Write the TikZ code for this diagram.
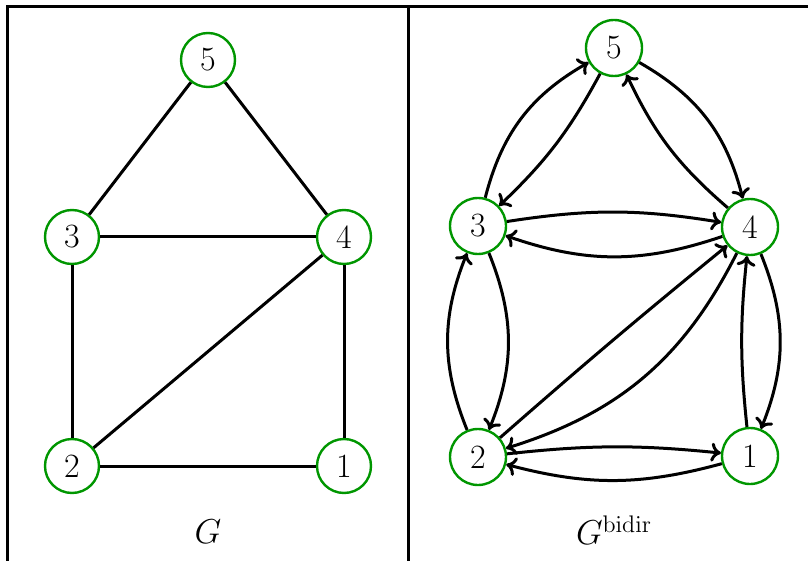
\documentclass[tikz,border=0pt]{standalone}
\usetikzlibrary{arrows.meta}
\definecolor{nodegreen}{RGB}{0,150,0}
\begin{document}
\begin{tikzpicture}[x=0.5pt,y=-0.5pt,
  vtx/.style={circle,draw=nodegreen,line width=1.2pt,minimum size=27pt,inner sep=0pt,font=\fontsize{17}{20}\selectfont},
  vtxr/.style={vtx,minimum size=28pt},
  edge/.style={line width=1.5pt},
  arc/.style={line width=1.5pt,-{To[length=5pt,width=9.5pt]}},
  frame/.style={line width=1.5pt}]
\useasboundingbox (0,0) rectangle (808,561);
% frame
\draw[frame] (7.5,561) -- (7.5,6.5) -- (808,6.5);
\draw[frame] (408.5,6.5) -- (408.5,561);
% left graph
\node[vtx] (l5) at (208,60) {5};
\node[vtx] (l3) at (72,237) {3};
\node[vtx] (l4) at (344,237) {4};
\node[vtx] (l2) at (72,466) {2};
\node[vtx] (l1) at (344,466) {1};
\draw[edge] (l5) -- (l3);
\draw[edge] (l5) -- (l4);
\draw[edge] (l3) -- (l4);
\draw[edge] (l3) -- (l2);
\draw[edge] (l2) -- (l4);
\draw[edge] (l4) -- (l1);
\draw[edge] (l2) -- (l1);
\node[font=\fontsize{17}{20}\selectfont] (lg) at (208,532) {$G$};
% right graph
\node[vtxr] (r5) at (614,48) {5};
\node[vtxr] (r3) at (478,226) {3};
\node[vtxr] (r4) at (750,227) {4};
\node[vtxr] (r2) at (478,457) {2};
\node[vtxr] (r1) at (750,456) {1};
\draw[arc] (r3) to[bend left=23] (r5);
\draw[arc] (r5) to[bend left=9] (r3);
\draw[arc] (r5) to[bend left=23] (r4);
\draw[arc] (r4) to[bend left=12] (r5);
\draw[arc] (r3) to[bend left=9] (r4);
\draw[arc] (r4) to[bend left=19] (r3);
\draw[arc] (r3) to[bend left=22] (r2);
\draw[arc] (r2) to[bend left=22] (r3);
\draw[arc] (r2) to[bend left=1] (r4);
\draw[arc] (r4) to[bend left=23] (r2);
\draw[arc] (r4) to[bend left=22] (r1);
\draw[arc] (r1) to[bend left=6] (r4);
\draw[arc] (r2) to[bend left=6] (r1);
\draw[arc] (r1) to[bend left=15] (r2);
\node[font=\fontsize{17}{20}\selectfont] (rg) at (614,530) {$G^{\mathrm{bidir}}$};
\end{tikzpicture}
\end{document}
